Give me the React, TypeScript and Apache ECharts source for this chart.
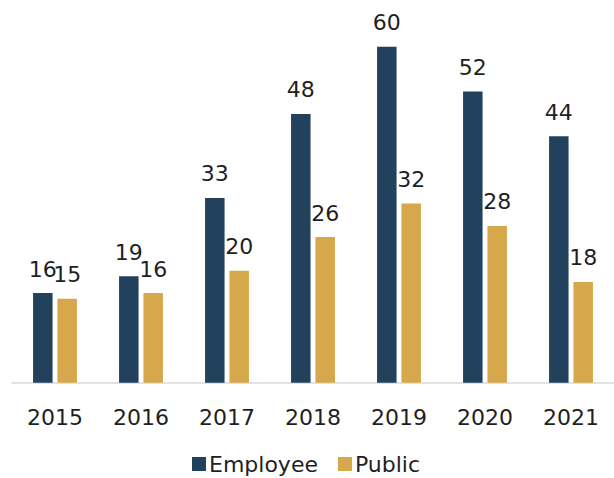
import React, { useEffect, useRef } from "react";
import * as echarts from "echarts";

const years = ["2015", "2016", "2017", "2018", "2019", "2020", "2021"];
const employee = [16, 19, 33, 48, 60, 52, 44];
const publicVals = [15, 16, 20, 26, 32, 28, 18];

const FONT = "DejaVu Sans";
const TEXT = "#1f1f1f";
const FS = 22;

export default function App() {
  const ref = useRef<HTMLDivElement>(null);
  useEffect(() => {
    if (!ref.current) return;
    const chart = echarts.init(ref.current, null, { renderer: "svg" });
    const label = {
      show: true,
      position: "top",
      distance: 13,
      color: TEXT,
      fontFamily: FONT,
      fontSize: FS,
    };
    chart.setOption({
      animation: false,
      grid: { left: 12, right: -3.5, top: 46.7, bottom: 95.3, containLabel: false },
      legend: {
        data: ["Employee", "Public"],
        left: 192,
        top: 452,
        padding: 0,
        itemWidth: 14,
        itemHeight: 14,
        itemGap: 20,
        icon: "rect",
        textStyle: { color: TEXT, fontFamily: FONT, fontSize: 22, lineHeight: 24, padding: [0, 0, 0, -2] },
      },
      xAxis: {
        type: "category",
        data: years,
        axisTick: { show: false },
        axisLine: { lineStyle: { color: "#d9d9d9", width: 1.5 } },
        axisLabel: { color: TEXT, fontFamily: FONT, fontSize: FS, margin: 24 },
      },
      yAxis: {
        type: "value",
        min: 0,
        max: 60,
        show: false,
        splitLine: { show: false },
      },
      series: [
        {
          name: "Employee",
          type: "bar",
          data: employee,
          itemStyle: { color: "#22415D" },
          barWidth: 19.5,
          barGap: "25%",
          label,
        },
        {
          name: "Public",
          type: "bar",
          data: publicVals,
          itemStyle: { color: "#D6A84B" },
          barWidth: 19.5,
          label,
        },
      ],
    });
    return () => chart.dispose();
  }, []);
  return <div ref={ref} style={{ width: 614, height: 478, position: "absolute", left: 0, top: 0, background: "#fff" }} />;
}
